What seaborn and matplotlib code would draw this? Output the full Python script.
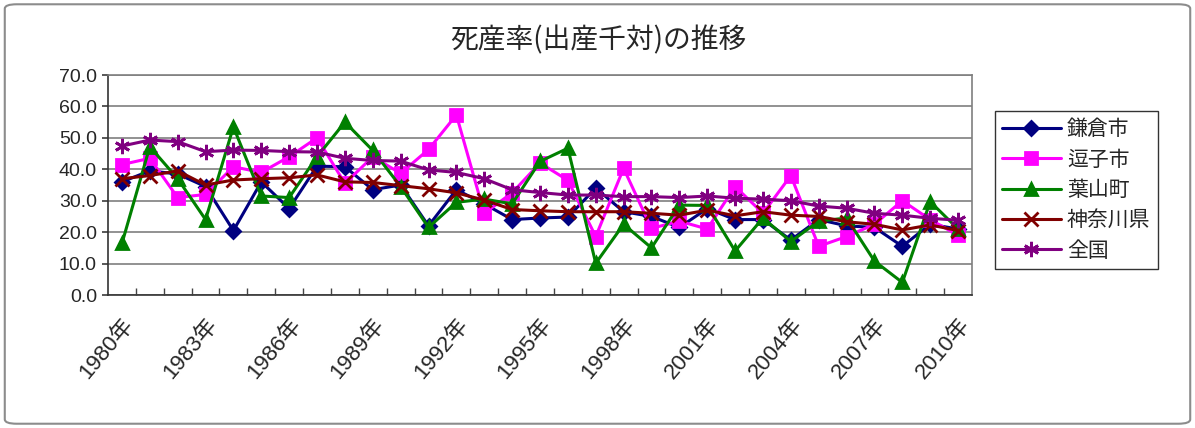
import matplotlib
matplotlib.use("Agg")
import matplotlib.pyplot as plt
from matplotlib.patches import FancyBboxPatch
import pandas as pd
import seaborn as sns

years = list(range(1980, 2011))

kamakura = [36.0, 39.5, 38.5, 34.5, 20.5, 36.0, 27.5, 41.0, 40.8, 33.5,
            35.0, 22.0, 33.5, 29.0, 24.0, 24.5, 24.8, 34.0, 26.5, 25.0,
            21.5, 27.5, 24.0, 24.0, 17.5, 24.0, 22.0, 21.5, 15.5, 22.5, 21.0]
zushi = [41.5, 43.5, 31.0, 32.0, 40.8, 39.0, 44.0, 50.0, 35.5, 44.0,
         38.7, 46.3, 57.3, 26.0, 32.5, 42.0, 36.5, 18.6, 40.3, 21.2,
         23.5, 21.0, 34.5, 26.0, 38.0, 15.5, 18.6, 22.5, 30.0, 24.0, 19.0]
hayama = [16.4, 47.2, 37.0, 24.0, 53.5, 31.5, 31.0, 44.0, 55.0, 46.0,
          34.5, 21.5, 29.5, 30.5, 29.0, 42.5, 46.7, 10.1, 22.5, 15.0,
          28.6, 28.5, 14.0, 24.5, 17.0, 23.5, 24.5, 10.8, 4.0, 29.7, 21.0]
kanagawa = [37.0, 38.0, 39.5, 35.0, 36.6, 37.0, 37.3, 38.2, 36.0, 35.8,
            34.8, 33.8, 32.5, 30.2, 27.2, 26.8, 26.5, 26.5, 26.5, 26.0,
            25.4, 27.0, 25.2, 26.5, 25.4, 25.0, 23.3, 22.5, 20.7, 22.3, 20.5]
zenkoku = [47.4, 49.3, 48.8, 45.6, 46.1, 46.0, 45.6, 45.5, 43.5, 42.8,
           42.6, 39.8, 39.0, 37.0, 33.5, 32.6, 31.8, 31.8, 31.3, 31.3,
           31.0, 31.5, 30.8, 30.5, 30.0, 28.3, 27.6, 26.0, 25.4, 24.4, 23.8]

series = {"鎌倉市": kamakura, "逗子市": zushi, "葉山町": hayama,
          "神奈川県": kanagawa, "全国": zenkoku}
tick_years = years[::3]
tick_labels = [f"{y}年" for y in tick_years]

df = pd.concat(
    [pd.DataFrame({"年": years, "死産率": v, "地域": k}) for k, v in series.items()],
    ignore_index=True,
)

sns.set_theme(style="white")
plt.rcParams["font.family"] = ["Liberation Sans", "Noto Sans CJK JP", "DejaVu Sans"]
cjk = ["Noto Sans CJK JP", "DejaVu Sans"]

palette = {"鎌倉市": "#000080", "逗子市": "#ff00ff", "葉山町": "#008000",
           "神奈川県": "#800000", "全国": "#800080"}
markers = {"鎌倉市": "D", "逗子市": "s", "葉山町": "^",
           "神奈川県": "x", "全国": (6, 2, 0)}
msizes = {"鎌倉市": 7, "逗子市": 9, "葉山町": 9, "神奈川県": 10, "全国": 11}

fig = plt.figure(figsize=(11.95, 4.28), dpi=100)
ax = fig.add_axes([108 / 1195, 1 - 295 / 428, 864 / 1195, 220 / 428])

for name in series:
    sub = df[df["地域"] == name]
    sns.lineplot(data=sub, x="年", y="死産率", color=palette[name],
                 marker=markers[name], markersize=msizes[name],
                 markeredgecolor=palette[name], markeredgewidth=2,
                 linewidth=2.2, label=name, ax=ax, legend=False)

ax.set_xlim(years[0] - 0.5, years[-1] + 0.5)
ax.set_ylim(0, 70)
ax.set_yticks(range(0, 71, 10))
ax.set_yticklabels([f"{v:.1f}" for v in range(0, 71, 10)], fontsize=14)
ax.set_xticks(tick_years)
ax.set_xticklabels(tick_labels, rotation=50, ha="right",
                   rotation_mode="anchor", fontsize=16)
ax.set_xticks([y + 0.5 for y in years[:-1]], minor=True)
ax.tick_params(axis="x", which="major", length=0, pad=14)
ax.tick_params(axis="x", which="minor", direction="in", length=5,
               color="#444444", bottom=True)
ax.tick_params(axis="y", direction="out", length=4, color="#444444",
               left=True, pad=4)
ax.set_xlabel("")
ax.set_ylabel("")
ax.grid(axis="y", color="#7f7f7f", linewidth=1.2)
for side in ["top", "right", "left", "bottom"]:
    ax.spines[side].set_color("#7f7f7f")
    ax.spines[side].set_linewidth(1.2)
ax.spines["left"].set_color("#333333")
ax.spines["bottom"].set_color("#333333")

fig.text(598 / 1195, 1 - 40 / 428, "死産率(出産千対)の推移",
         ha="center", va="center", fontsize=20, family=cjk)

handles, labels = ax.get_legend_handles_labels()
leg = fig.legend(handles, labels, loc="upper left",
                 bbox_to_anchor=(995 / 1195, 1 - 111 / 428),
                 borderaxespad=0, prop={"family": cjk, "size": 15},
                 frameon=True, fancybox=False,
                 edgecolor="black", borderpad=0.35, labelspacing=0.4,
                 handlelength=2.8, handletextpad=0.3)
leg.get_frame().set_linewidth(1.0)

fig.patches.append(FancyBboxPatch((0.004, 0.01), 0.992, 0.98,
                                  boxstyle="round,pad=0,rounding_size=0.01",
                                  transform=fig.transFigure, fill=False,
                                  edgecolor="#8c8c8c", linewidth=1.5))

fig.savefig("out.png", dpi=100)
